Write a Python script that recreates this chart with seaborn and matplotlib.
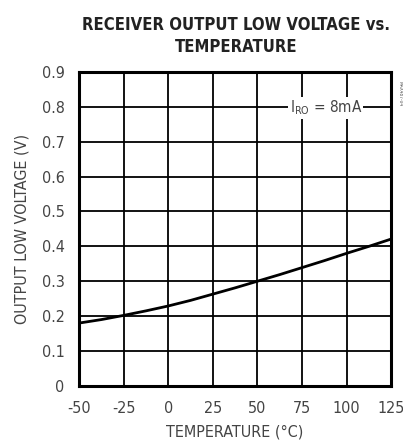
import matplotlib
matplotlib.use("Agg")
import matplotlib.pyplot as plt
import seaborn as sns
import pandas as pd

# curve data
temperature = [-50, -37.5, -25, -12.5, 0, 12.5, 25, 37.5, 50, 62.5, 75, 87.5, 100, 112.5, 125]
voltage = [0.180, 0.190, 0.202, 0.215, 0.229, 0.245, 0.263, 0.281, 0.300, 0.319, 0.339, 0.359, 0.380, 0.400, 0.421]

x_ticks = [-50, -25, 0, 25, 50, 75, 100, 125]
y_ticks = [0, 0.1, 0.2, 0.3, 0.4, 0.5, 0.6, 0.7, 0.8, 0.9]
y_labels = ["0", "0.1", "0.2", "0.3", "0.4", "0.5", "0.6", "0.7", "0.8", "0.9"]

df = pd.DataFrame({"temp": temperature, "vol": voltage})

sns.set_style("white")
plt.rcParams["font.family"] = ["DejaVu Sans"]
plt.rcParams["font.stretch"] = "condensed"

fig = plt.figure(figsize=(4.03, 4.41), dpi=100)
ax = fig.add_axes([0.196, 0.125, 0.775, 0.712])

# grid
for xv in x_ticks[1:-1]:
    ax.axvline(xv, color="black", lw=1.3, zorder=1)
for yv in y_ticks[1:-1]:
    if yv == 0.8:
        ax.plot([-50, 67.5], [yv, yv], color="black", lw=1.3, zorder=1)
        ax.plot([109, 125], [yv, yv], color="black", lw=1.3, zorder=1)
    else:
        ax.axhline(yv, color="black", lw=1.3, zorder=1)

sns.lineplot(data=df, x="temp", y="vol", color="black", lw=2.0, ax=ax, zorder=3)

ax.text(88.3, 0.797, "I$_\\mathregular{RO}$ = 8mA", ha="center", va="center",
        fontsize=11, color="#444444", zorder=4,
        bbox=dict(facecolor="white", edgecolor="none", pad=1.0))
ax.text(1.02, 0.97, "MAX487-04", transform=ax.transAxes, rotation=270,
        fontsize=3.5, color="#555555", ha="left", va="top")

ax.set_xlim(-50, 125)
ax.set_ylim(0, 0.9)
ax.set_xticks(x_ticks)
ax.set_xticklabels([str(v) for v in x_ticks])
ax.set_yticks(y_ticks)
ax.set_yticklabels(y_labels)
ax.tick_params(axis="both", length=0, labelsize=11.5, colors="#444444")
ax.tick_params(axis="y", pad=10.5)
ax.tick_params(axis="x", pad=11)
for s in ax.spines.values():
    s.set_color("black")
    s.set_linewidth(2.2)

ax.set_xlabel("TEMPERATURE (°C)", fontsize=11.5, color="#444444", labelpad=6)
ax.set_ylabel("OUTPUT LOW VOLTAGE (V)", fontsize=11.5, color="#444444", labelpad=9)

fig.text(0.586, 0.918, "RECEIVER OUTPUT LOW VOLTAGE vs.\nTEMPERATURE", ha="center",
         va="center", fontsize=12, fontweight="bold", color="#222222", linespacing=1.3)

plt.savefig("out.png", dpi=100)
